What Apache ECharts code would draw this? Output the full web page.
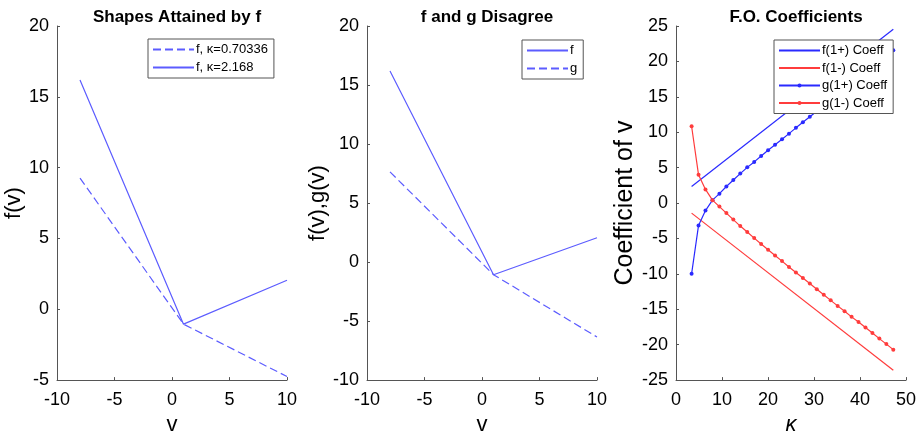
<!DOCTYPE html>
<html>
<head>
<meta charset="utf-8">
<script src="https://cdn.jsdelivr.net/npm/echarts@6/dist/echarts.min.js"></script>
<style>
  html, body { margin: 0; padding: 0; background: #fff; }
  #chart { width: 923px; height: 441px; }
</style>
</head>
<body>
<div id="chart"></div>
<script>
// panel 1 + 2: piecewise linear shapes, sampled at v
const vPts = [-8, 1, 10];
const fKappaLow = [9.26, -1.05, -4.75];   // f, kappa=0.70336 (dashed)
const fKappaHigh = [16.18, -1.05, 2.05];  // f, kappa=2.168 (solid)
const fShape = [16.18, -1.07, 2.06];
const gShape = [7.64, -1.07, -6.35];

// panel 3: first-order coefficients vs kappa
const kappaEnds = [3.39, 47.24];
const fPlus = [2.34, 24.54];
const fMinus = [-1.42, -23.6];
const kappa = [3.39, 4.90, 6.41, 7.93, 9.44, 10.95, 12.46, 13.97, 15.49, 17.00,
  18.51, 20.02, 21.53, 23.05, 24.56, 26.07, 27.58, 29.09, 30.61, 32.12,
  33.63, 35.14, 36.65, 38.17, 39.68, 41.19, 42.70, 44.21, 45.73, 47.24];
const gPlus = [-10.0, -3.16, -1.06, 0.41, 1.33, 2.34, 3.25, 4.16, 5.04, 5.81,
  6.64, 7.46, 8.24, 9.02, 9.80, 10.62, 11.40, 12.18, 12.96, 13.74,
  14.52, 15.31, 16.09, 16.87, 17.65, 18.44, 19.22, 20.00, 20.79, 21.57];
const gMinus = [10.85, 3.98, 1.92, 0.41, -0.50, -1.42, -2.34, -3.25, -4.08, -4.95,
  -5.78, -6.60, -7.41, -8.20, -9.02, -9.80, -10.58, -11.36, -12.18, -12.96,
  -13.74, -14.52, -15.29, -16.07, -16.80, -17.58, -18.36, -19.14, -19.92, -20.70];

const pairs = (xs, ys) => xs.map((x, i) => [x, ys[i]]);

const FONT = "Liberation Sans, Arial, sans-serif";
const axisColor = "#555";
const lightBlue = "#5c5cff";
const blue = "#2a2aff";
const red = "#ff3c3c";

function xAxis(gridIndex, min, max, interval, name, italic) {
  return {
    type: "value", gridIndex, min, max, interval,
    name, nameLocation: "middle", nameGap: 31,
    nameTextStyle: { color: "#000", fontSize: 22, fontFamily: FONT, fontStyle: italic ? "italic" : "normal" },
    axisLine: { show: true, onZero: false, lineStyle: { color: axisColor, width: 1 } },
    axisTick: { show: true, inside: true, length: 3, lineStyle: { color: axisColor } },
    axisLabel: { color: "#000", fontSize: 18, fontFamily: FONT, margin: 11 },
    splitLine: { show: false },
  };
}
function yAxis(gridIndex, min, max, name, nameGap, nameSize) {
  return {
    type: "value", gridIndex, min, max, interval: 5,
    name, nameLocation: "middle", nameGap,
    nameTextStyle: { color: "#000", fontSize: nameSize, fontFamily: FONT },
    axisLine: { show: true, onZero: false, lineStyle: { color: axisColor, width: 1 } },
    axisTick: { show: true, inside: true, length: 3, lineStyle: { color: axisColor } },
    axisLabel: { color: "#000", fontSize: 18, fontFamily: FONT, margin: 8 },
    splitLine: { show: false },
  };
}
// f lines have no marker: hide the legend symbol; g lines keep a small dot
function legendItem(name, marker) {
  return marker ? { name } : { name, itemStyle: { opacity: 0 } };
}
function legend(left, top, items, gap) {
  return {
    left, top, orient: "vertical", data: items,
    itemWidth: 41, itemHeight: 5, itemGap: gap,
    padding: [4, 6, 4, 4],
    backgroundColor: "#fff", borderColor: "#555", borderWidth: 1, borderRadius: 0,
    textStyle: { color: "#000", fontSize: 13, fontFamily: FONT, padding: [0, 0, 0, -3] },
    selectedMode: false,
  };
}
function title(text, cx) {
  return {
    text, left: cx, top: 4, textAlign: "center",
    textStyle: { color: "#000", fontSize: 17, fontWeight: "bold", fontFamily: FONT },
  };
}
function line(name, idx, data, color, dashed, marker) {
  return {
    name, type: "line", xAxisIndex: idx, yAxisIndex: idx, data,
    symbol: marker ? "circle" : "none", symbolSize: 4, showSymbol: !!marker,
    itemStyle: { color },
    lineStyle: { color, width: 1.2, type: dashed ? [8, 4] : "solid" },
    animation: false,
  };
}

const chart = echarts.init(document.getElementById("chart"), null, { renderer: "canvas" });
chart.setOption({
  backgroundColor: "#fff",
  animation: false,
  title: [
    title("Shapes Attained by f", 172),
    title("f and g Disagree", 482),
    title("F.O. Coefficients", 791),
  ],
  grid: [
    { left: 57, right: 636, top: 26, bottom: 51 },
    { left: 367, right: 326, top: 26, bottom: 51 },
    { left: 676, right: 17, top: 26, bottom: 51 },
  ],
  xAxis: [
    xAxis(0, -10, 10, 5, "v"),
    xAxis(1, -10, 10, 5, "v"),
    xAxis(2, 0, 50, 10, "κ", true),
  ],
  yAxis: [
    yAxis(0, -5, 20, "f(v)", 31, 22),
    yAxis(1, -10, 20, "f(v),g(v)", 36, 22),
    yAxis(2, -25, 25, "Coefficient of v", 34, 25),
  ],
  legend: [
    legend(148, 39, [legendItem("f, κ=0.70336"), legendItem("f, κ=2.168")], 5),
    legend(522, 40, [legendItem("f"), legendItem("g")], 5),
    legend(774, 40, [legendItem("f(1+) Coeff"), legendItem("f(1-) Coeff"),
      legendItem("g(1+) Coeff", true), legendItem("g(1-) Coeff", true)], 4.5),
  ],
  series: [
    line("f, κ=0.70336", 0, pairs(vPts, fKappaLow), lightBlue, true, false),
    line("f, κ=2.168", 0, pairs(vPts, fKappaHigh), lightBlue, false, false),
    line("f", 1, pairs(vPts, fShape), lightBlue, false, false),
    line("g", 1, pairs(vPts, gShape), lightBlue, true, false),
    line("f(1+) Coeff", 2, pairs(kappaEnds, fPlus), blue, false, false),
    line("f(1-) Coeff", 2, pairs(kappaEnds, fMinus), red, false, false),
    line("g(1+) Coeff", 2, pairs(kappa, gPlus), blue, false, true),
    line("g(1-) Coeff", 2, pairs(kappa, gMinus), red, false, true),
  ],
});
</script>
</body>
</html>
